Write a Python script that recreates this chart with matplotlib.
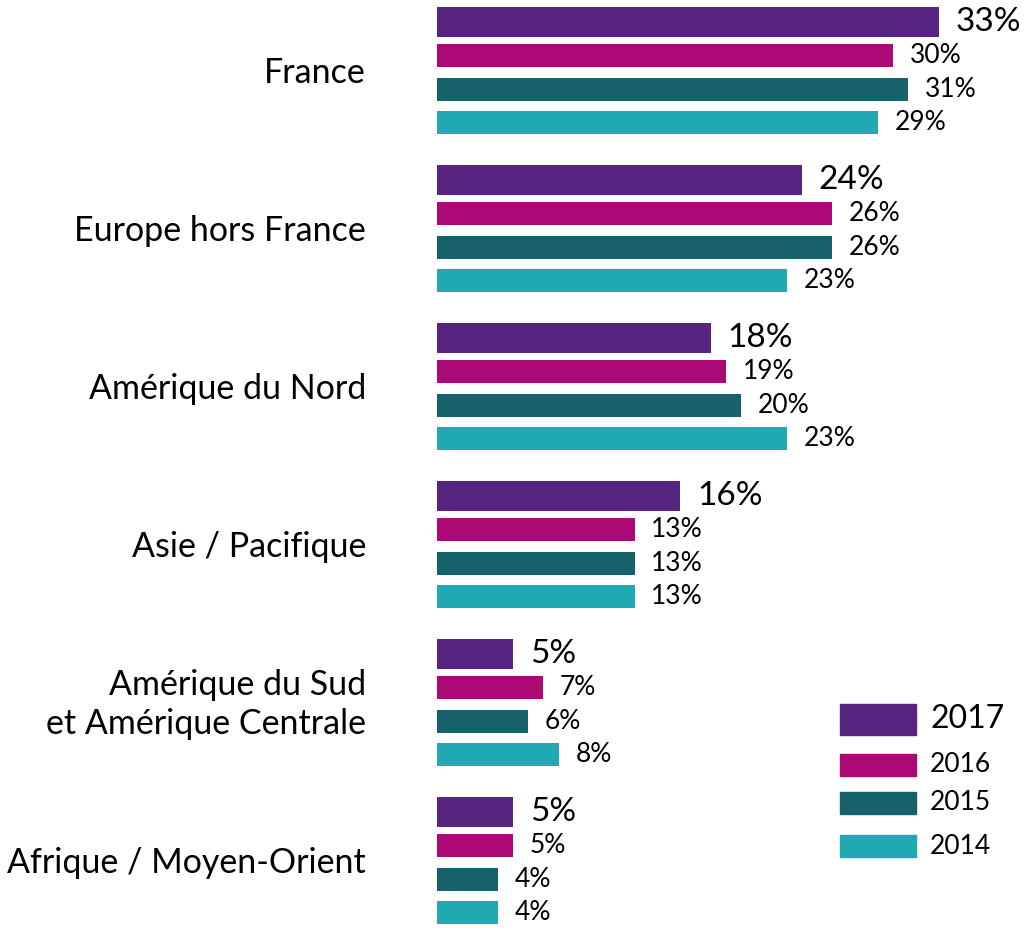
import numpy as np
import matplotlib
matplotlib.use('Agg')
import matplotlib.pyplot as plt
from matplotlib.patches import Rectangle

plt.rcParams['font.family'] = ['Lato', 'DejaVu Sans']

# Donnees
regions = ['France', 'Europe hors France', 'Amérique du Nord', 'Asie / Pacifique',
           'Amérique du Sud\net Amérique Centrale', 'Afrique / Moyen-Orient']
years = ['2017', '2016', '2015', '2014']
v2017 = [33, 24, 18, 16, 5, 5]
v2016 = [30, 26, 19, 13, 7, 5]
v2015 = [31, 26, 20, 13, 6, 4]
v2014 = [29, 23, 23, 13, 8, 4]
colors = ['#57257f', '#ab0a76', '#17616a', '#20a9b3']

series = [v2017, v2016, v2015, v2014]

W, H = 1033, 931
fig = plt.figure(figsize=(W/100, H/100), dpi=100)
ax = fig.add_axes([437/W, 0, (W-437)/W, 1])

# position des barres dans chaque groupe
offsets = [0, 0.213, 0.426, 0.639]
heights = [0.19, 0.146, 0.146, 0.146]
fsizes = [24, 19, 19, 19]

idx = np.arange(len(regions))
for k in range(4):
    y = idx + offsets[k]
    ax.barh(y, series[k], height=heights[k], color=colors[k], left=0)
    for yy, val in zip(y, series[k]):
        ax.annotate(f'{val}%', (val, yy), xytext=(12, 0), textcoords='offset points',
                    va='center', ha='left', fontsize=fsizes[k])

for i, r in enumerate(regions):
    ax.text(-71/15.2, i + 0.32, r, ha='right', va='center', fontsize=24.5,
            linespacing=1.3)

ax.set_xlim(0, (W-437)/15.2)
ax.set_ylim((H-22)/158, -22/158)
ax.axis('off')

# legende
leg_y = [704, 754, 792, 835]
leg_h = [31, 22, 22, 22]
leg_fs = [23, 19, 19, 19]
for k in range(4):
    y0 = 1 - (leg_y[k] + leg_h[k])/H
    fig.patches.append(Rectangle((840/W, y0), 76/W, leg_h[k]/H, transform=fig.transFigure,
                                 color=colors[k]))
    fig.text(930/W, y0 + leg_h[k]/H/2, years[k], va='center', ha='left', fontsize=leg_fs[k])

fig.savefig('out.png', dpi=100)
